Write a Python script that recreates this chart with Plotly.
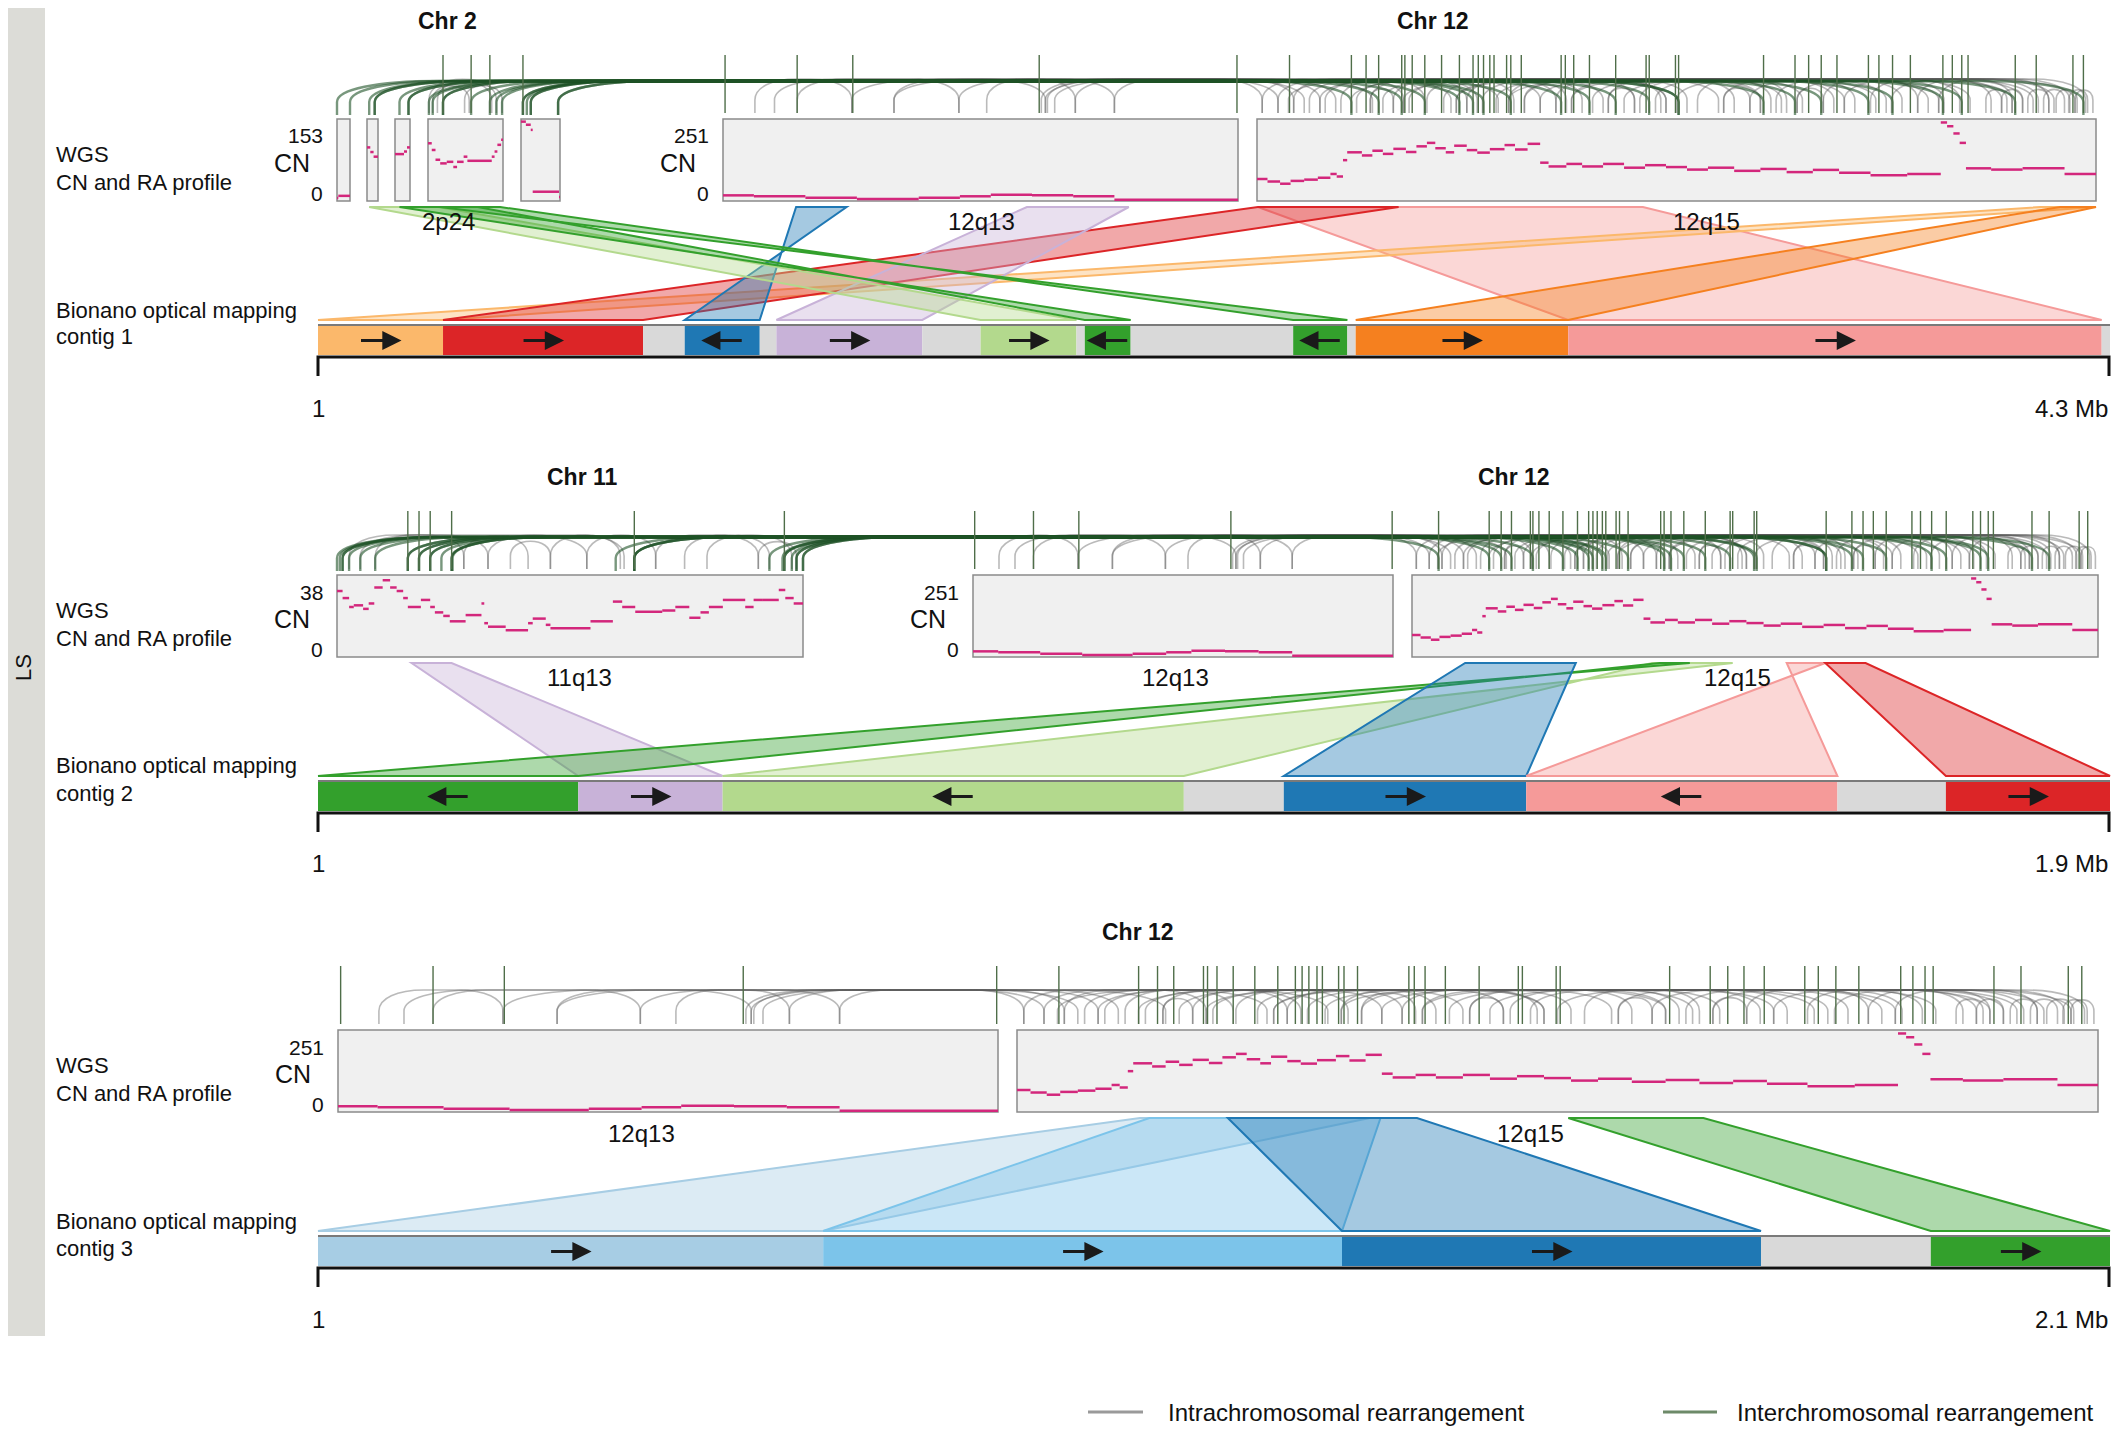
import plotly.graph_objects as go

W, H = 2120, 1434
OFF = 8                      # page margin the browser puts round the figure
WF, HF = W - 2 * OFF, H - 2 * OFF
FONT = "Liberation Sans, Arial, sans-serif"

# ---------------- data ----------------
COLOURS = {
    "lorange": "#fbb86b", "red": "#dc2527", "blue": "#1f78b4", "lav": "#c8b2d8",
    "lgreen": "#b3d98d", "green": "#33a02c", "orange": "#f5801f", "pink": "#f59a99",
    "pblue": "#a7cde4", "sky": "#7cc4ea", "gap": "#d9d9d9",
}

CONTIG_LENGTHS = [4.3, 1.9, 2.1]
CONTIG_END_LABELS = ["4.3 Mb", "1.9 Mb", "2.1 Mb"]

# contig segments: (start Mb, end Mb, colour, orientation)
CONTIG_1 = [
    (0.00, 0.30, "lorange", 1), (0.30, 0.78, "red", 1), (0.78, 0.88, "gap", 0),
    (0.88, 1.06, "blue", -1), (1.06, 1.10, "gap", 0), (1.10, 1.45, "lav", 1),
    (1.45, 1.59, "gap", 0), (1.59, 1.82, "lgreen", 1), (1.82, 1.84, "gap", 0),
    (1.84, 1.95, "green", -1), (1.95, 2.34, "gap", 0), (2.34, 2.47, "green", -1),
    (2.47, 2.49, "gap", 0), (2.49, 3.00, "orange", 1), (3.00, 4.28, "pink", 1),
    (4.28, 4.30, "gap", 0),
]
CONTIG_2 = [
    (0.000, 0.276, "green", -1), (0.276, 0.429, "lav", 1), (0.429, 0.918, "lgreen", -1),
    (0.918, 1.024, "gap", 0), (1.024, 1.281, "blue", 1), (1.281, 1.611, "pink", -1),
    (1.611, 1.726, "gap", 0), (1.726, 1.900, "red", 1),
]
CONTIG_3 = [
    (0.000, 0.592, "pblue", 1), (0.592, 1.200, "sky", 1), (1.200, 1.691, "blue", 1),
    (1.691, 1.890, "gap", 0), (1.890, 2.100, "green", 1),
]

# genomic windows shown in the CN tracks (Mb)
WINDOWS = {
    "chr2": [(14.4, 14.5), (14.8, 14.9), (15.1, 15.2), (15.4, 16.2), (16.5, 16.9)],
    "chr11": [(66.0, 71.0)],
    "chr12": [(56.0, 61.0), (62.0, 70.0)],
}
CN_MAX = {"chr2": 153, "chr11": 38, "chr12": 251}

# copy number segments: (start Mb, end Mb, CN)
CN_CHR2 = [
    (14.40, 14.41, 6), (14.41, 14.50, 10),
    (14.80, 14.83, 104), (14.83, 14.86, 95), (14.86, 14.90, 86),
    (15.10, 15.16, 91), (15.16, 15.18, 96), (15.18, 15.20, 104),
    (15.40, 15.44, 112), (15.44, 15.48, 99), (15.48, 15.53, 80), (15.53, 15.60, 73),
    (15.60, 15.67, 76), (15.67, 15.71, 66), (15.71, 15.78, 76), (15.78, 15.82, 86),
    (15.82, 16.08, 78), (16.08, 16.11, 86), (16.11, 16.14, 96), (16.14, 16.18, 109),
    (16.18, 16.20, 119),
    (16.50, 16.55, 154), (16.55, 16.60, 148), (16.60, 16.62, 138), (16.62, 16.89, 18),
    (16.89, 16.90, 8),
]
CN_CHR11 = [
    (66.00, 66.06, 31.8), (66.06, 66.13, 28.4), (66.13, 66.18, 24.1), (66.18, 66.28, 24.9),
    (66.28, 66.34, 23.2), (66.34, 66.40, 25.8), (66.40, 66.49, 33.5), (66.49, 66.57, 37.0),
    (66.57, 66.64, 33.5), (66.64, 66.71, 31.8), (66.71, 66.76, 28.4), (66.76, 66.90, 24.1),
    (66.90, 67.00, 27.5), (67.00, 67.05, 24.1), (67.05, 67.14, 21.5), (67.14, 67.21, 19.8),
    (67.21, 67.38, 17.2), (67.38, 67.55, 20.2), (67.55, 67.58, 25.8), (67.58, 67.62, 16.3),
    (67.62, 67.81, 14.6), (67.81, 68.05, 12.9), (68.05, 68.10, 16.3), (68.10, 68.24, 18.5),
    (68.24, 68.29, 15.5), (68.29, 68.72, 13.8), (68.72, 68.96, 17.2), (68.96, 69.06, 26.7),
    (69.06, 69.20, 24.1), (69.20, 69.49, 21.8), (69.49, 69.63, 22.4), (69.63, 69.78, 24.1),
    (69.78, 69.90, 18.9), (69.90, 69.99, 21.5), (69.99, 70.14, 24.1), (70.14, 70.38, 27.5),
    (70.38, 70.47, 24.1), (70.47, 70.57, 27.5), (70.57, 70.74, 27.5), (70.74, 70.81, 32.3),
    (70.81, 70.90, 28.4), (70.90, 71.00, 25.8),
]
CN_CHR12 = [
    (56.0, 56.3, 18), (56.3, 56.8, 15), (56.8, 57.3, 10), (57.3, 57.9, 6), (57.9, 58.3, 10),
    (58.3, 58.6, 15), (58.6, 59.0, 20), (59.0, 59.4, 18), (59.4, 59.8, 15), (59.8, 61.0, 4),
    (62.00, 62.10, 70), (62.10, 62.22, 62), (62.22, 62.32, 55), (62.32, 62.45, 64),
    (62.45, 62.58, 68), (62.58, 62.70, 74), (62.70, 62.76, 86), (62.76, 62.82, 78),
    (62.82, 62.86, 130), (62.86, 63.00, 155), (63.00, 63.10, 145), (63.10, 63.20, 160),
    (63.20, 63.30, 150), (63.30, 63.42, 166), (63.42, 63.52, 156), (63.52, 63.62, 174),
    (63.62, 63.70, 185), (63.70, 63.80, 168), (63.80, 63.88, 155), (63.88, 64.00, 176),
    (64.00, 64.10, 162), (64.10, 64.22, 154), (64.22, 64.36, 165), (64.36, 64.46, 178),
    (64.46, 64.58, 164), (64.58, 64.70, 182), (64.70, 64.78, 122), (64.78, 64.95, 110),
    (64.95, 65.10, 118), (65.10, 65.30, 110), (65.30, 65.50, 118), (65.50, 65.70, 106),
    (65.70, 65.90, 114), (65.90, 66.10, 108), (66.10, 66.30, 100), (66.30, 66.55, 106),
    (66.55, 66.80, 96), (66.80, 67.05, 102), (67.05, 67.30, 92), (67.30, 67.55, 99),
    (67.55, 67.85, 90), (67.85, 68.20, 82), (68.20, 68.52, 86), (68.52, 68.58, 250),
    (68.58, 68.64, 238), (68.64, 68.70, 215), (68.70, 68.76, 185), (68.76, 69.00, 104),
    (69.00, 69.30, 100), (69.30, 69.70, 104), (69.70, 70.00, 86),
]

# interchromosomal breakpoints (tall ticks)
TALL_CHR2 = [15.56, 15.86, 16.06, 16.52]
TALL_CHR11 = [66.76, 66.88, 67.00, 67.23, 69.19, 70.80]
TALL_CHR12 = [
    56.02, 56.72, 57.26, 59.07, 60.99,
    62.31, 62.90, 63.04, 63.16, 63.38, 63.41, 63.48, 63.60, 63.76, 63.93, 64.06, 64.11,
    64.16, 64.22, 64.26, 64.38, 64.42, 64.52, 64.90, 64.94, 65.02, 65.17, 65.42, 65.71,
    65.74, 65.99, 66.02, 66.83, 67.13, 67.26, 67.38, 67.53, 67.83, 67.93, 68.06, 68.23,
    68.54, 68.63, 68.72, 68.78, 69.23, 69.43, 69.78, 69.88,
]

# intrachromosomal rearrangements (arcs)
ARCS_CHR2 = [(15.45, 15.84), (15.50, 16.08), (15.41, 16.13), (15.79, 16.19)]
ARCS_CHR11 = [
    (66.13, 67.62), (66.25, 68.68), (66.41, 67.36), (67.36, 68.05), (67.62, 69.08),
    (67.86, 68.29), (68.29, 69.04), (68.68, 69.42), (69.42, 70.52), (69.73, 70.64),
    (69.97, 70.88), (70.52, 70.93),
]
ARCS_CHR12 = [
    (56.31, 57.25), (56.72, 58.29), (57.25, 62.45), (57.66, 63.10), (58.29, 62.20),
    (58.56, 59.42), (59.09, 62.60), (59.13, 63.85), (59.15, 62.75), (59.22, 64.30),
    (59.42, 62.35), (59.80, 62.05), (56.50, 59.13), (57.66, 59.80),
    (62.05, 63.40), (62.20, 64.10), (62.35, 63.60), (62.50, 64.70), (62.65, 65.30),
    (62.80, 64.00), (62.95, 65.90), (63.08, 64.45), (63.20, 66.40), (63.30, 64.85),
    (63.45, 67.00), (63.62, 65.10), (63.78, 66.10), (63.90, 67.60), (64.00, 65.60),
    (64.15, 66.80), (64.28, 68.00), (64.40, 65.85), (64.55, 67.20), (64.70, 68.40),
    (64.85, 66.55), (65.00, 67.50), (65.20, 68.80), (65.35, 66.90), (65.50, 69.30),
    (65.65, 67.70), (65.80, 68.15), (66.00, 69.60), (66.20, 67.05), (66.45, 68.55),
    (66.70, 69.10), (66.95, 68.70), (67.15, 69.45), (67.40, 68.30), (67.60, 69.75),
    (67.85, 69.00), (68.05, 69.90), (68.30, 69.20), (68.50, 69.55), (62.30, 66.80),
    (62.90, 67.90), (63.40, 68.50), (63.90, 69.20), (64.40, 69.80), (65.00, 69.40),
    (62.60, 65.90), (63.08, 63.30), (64.55, 64.95), (65.35, 65.60), (66.45, 66.70),
    (67.15, 67.40), (68.95, 69.15), (69.10, 69.30), (69.35, 69.55), (69.50, 69.70),
    (69.62, 69.82), (69.74, 69.92), (69.80, 69.97),
]
LINKS_2_12 = [
    (14.40, 63.38), (14.50, 64.16), (14.82, 64.90), (14.87, 65.42), (15.13, 63.60),
    (15.19, 66.02), (15.56, 63.93), (15.56, 67.13), (15.86, 64.42), (16.06, 68.06),
    (16.52, 65.17), (16.52, 69.23), (16.56, 66.83), (16.60, 67.83), (16.88, 68.72),
    (15.41, 64.06), (15.45, 65.74), (16.13, 66.02), (16.19, 67.38), (16.60, 68.54),
    (16.88, 69.88), (14.87, 63.16), (15.19, 62.90),
]
LINKS_11_12 = [
    (66.00, 63.04), (66.03, 63.41), (66.06, 64.06), (66.13, 64.52), (66.76, 63.76),
    (66.88, 64.22), (67.00, 65.02), (67.12, 65.71), (67.23, 66.02), (67.24, 63.16),
    (68.99, 64.94), (69.19, 65.99), (69.19, 67.26), (70.78, 66.83), (70.80, 67.53),
    (70.80, 68.23), (70.93, 68.63), (71.00, 69.43), (70.88, 64.26), (66.41, 62.90),
    (66.06, 65.17), (66.25, 63.93), (66.88, 66.83), (67.00, 64.11), (67.23, 67.13),
    (69.19, 68.06), (70.64, 69.23), (70.93, 62.31), (71.00, 65.42), (66.76, 68.72),
]

# alignments: (chrom, start Mb, end Mb, contig start, contig end, colour, inverted)
POLYS_1 = [
    ("chr12", 62.01, 65.68, 3.00, 4.28, "pink", False),
    ("chr12", 69.47, 70.00, 0.00, 0.30, "lorange", False),
    ("chr12", 62.01, 63.35, 0.30, 0.78, "red", False),
    ("chr12", 56.71, 57.20, 0.88, 1.06, "blue", True),
    ("chr12", 58.95, 59.94, 1.10, 1.45, "lav", False),
    ("chr2", 14.82, 15.51, 1.59, 1.82, "lgreen", False),
    ("chr2", 15.13, 15.93, 1.84, 1.95, "green", True),
    ("chr2", 15.53, 16.17, 2.34, 2.47, "green", True),
    ("chr12", 69.66, 70.00, 2.49, 3.00, "orange", False),
]
POLYS_2 = [
    ("chr11", 66.80, 67.23, 0.276, 0.429, "lav", False),
    ("chr12", 64.80, 65.74, 0.429, 0.918, "lgreen", True),
    ("chr12", 64.89, 65.24, 0.000, 0.276, "green", True),
    ("chr12", 62.62, 63.91, 1.024, 1.281, "blue", False),
    ("chr12", 66.37, 66.82, 1.281, 1.611, "pink", True),
    ("chr12", 66.82, 67.29, 1.726, 1.900, "red", False),
]
POLYS_3 = [
    ("chr12", 62.91, 64.61, 0.000, 0.592, "pblue", False),
    ("chr12", 62.98, 64.69, 0.592, 1.200, "sky", False),
    ("chr12", 63.56, 64.96, 1.200, 1.691, "blue", False),
    ("chr12", 66.08, 67.08, 1.890, 2.100, "green", False),
]

# ---------------- layout (pixels of the 2120x1434 page) ----------------
PANEL_DY = [0, 456, 911]
WINDOW_PX = [
    {"chr2": [(337, 350), (367, 378), (395, 410), (428, 503), (521, 560)],
     "chr12": [(723, 1238), (1257, 2096)]},
    {"chr11": [(337, 803)], "chr12": [(973, 1393), (1412, 2098)]},
    {"chr12": [(338, 998), (1017, 2098)]},
]
TITLES = [[("Chr 2", 447), ("Chr 12", 1433)], [("Chr 11", 582), ("Chr 12", 1514)], [("Chr 12", 1138)]]
BANDS = [[("2p24", 448), ("12q13", 981), ("12q15", 1706)],
         [("11q13", 579), ("12q13", 1175), ("12q15", 1737)],
         [("12q13", 641), ("12q15", 1530)]]
PANELS = [
    dict(contig=CONTIG_1, polys=POLYS_1, arcs=[("chr2", ARCS_CHR2), ("chr12", ARCS_CHR12)],
         tall=[("chr2", TALL_CHR2), ("chr12", TALL_CHR12)], links=("chr2", LINKS_2_12)),
    dict(contig=CONTIG_2, polys=POLYS_2, arcs=[("chr11", ARCS_CHR11), ("chr12", ARCS_CHR12)],
         tall=[("chr11", TALL_CHR11), ("chr12", TALL_CHR12)], links=("chr11", LINKS_11_12)),
    dict(contig=CONTIG_3, polys=POLYS_3, arcs=[("chr12", ARCS_CHR12)],
         tall=[("chr12", TALL_CHR12)], links=None),
]
CN_DATA = {"chr2": CN_CHR2, "chr11": CN_CHR11, "chr12": CN_CHR12}
CX0, CX1 = 318, 2110

GREY_ARC = "rgba(90,90,90,0.42)"
GREEN_LINK = "rgba(30,82,38,0.6)"
TALL_COL = "#4f6e49"
CN_COL = "#d3277c"


def hexa(c, a):
    c = c.lstrip("#")
    return f"rgba({int(c[0:2], 16)},{int(c[2:4], 16)},{int(c[4:6], 16)},{a})"


def px(x):
    return (x - OFF) / WF


def py(y):
    return 1 - (y - OFF) / HF


def gx(p, chrom, mb):
    for (lo, hi), (x0, x1) in zip(WINDOWS[chrom], WINDOW_PX[p][chrom]):
        if lo - 1e-6 <= mb <= hi + 1e-6:
            return x0 + (mb - lo) / (hi - lo) * (x1 - x0)
    raise ValueError((chrom, mb))


def cx(p, mb):
    return CX0 + mb / CONTIG_LENGTHS[p] * (CX1 - CX0)


def arc_path(xa, xb, dy):
    xa, xb = sorted((xa, xb))
    d = xb - xa
    foot, low = dy + 100, dy + 113
    h = min(21.0, 6 + 0.22 * d)
    top = foot - h
    r = min(d / 2, 30 + 0.12 * d, 100)
    return (f"M{xa:.1f},{low} L{xa:.1f},{foot} "
            f"C{xa:.1f},{foot - 0.6 * h:.1f} {xa + 0.4 * r:.1f},{top:.1f} {xa + r:.1f},{top:.1f} "
            f"L{xb - r:.1f},{top:.1f} "
            f"C{xb - 0.4 * r:.1f},{top:.1f} {xb:.1f},{foot - 0.6 * h:.1f} {xb:.1f},{foot} L{xb:.1f},{low}")


def txt(text, x, y, size=22, bold=False, xanchor="center", **kw):
    if bold:
        text = f"<b>{text}</b>"
    return dict(text=text, x=px(x), y=py(y), xref="paper", yref="paper", showarrow=False,
                xanchor=xanchor, yanchor="middle", font=dict(family=FONT, size=size, color="#111"), **kw)


fig = go.Figure()
layout = dict(
    width=WF, height=HF, margin=dict(l=0, r=0, t=0, b=0),
    paper_bgcolor="white", plot_bgcolor="rgba(0,0,0,0)", showlegend=False,
    xaxis=dict(domain=[0, 1], range=[OFF, OFF + WF], visible=False),
    yaxis=dict(domain=[0, 1], range=[OFF + HF, OFF], visible=False),
)
shapes, annotations = [], []
fig.add_trace(go.Scatter(x=[None], y=[None], xaxis="x", yaxis="y", hoverinfo="skip"))

# side strip and legend
shapes.append(dict(type="rect", xref="paper", yref="paper", x0=0, x1=px(45), y0=py(1336),
                   y1=py(4), fillcolor="#dcdcd7", line=dict(width=0), layer="below"))
annotations.append(txt("LS", 24, 668, size=22, textangle=-90))
shapes.append(dict(type="line", xref="x", yref="y", x0=1088, x1=1143, y0=1412, y1=1412,
                   line=dict(color="#9a9a9a", width=3)))
shapes.append(dict(type="line", xref="x", yref="y", x0=1663, x1=1717, y0=1412, y1=1412,
                   line=dict(color="#6d8a69", width=3)))
annotations.append(txt("Intrachromosomal rearrangement", 1166, 1412, size=24, xanchor="left"))
annotations.append(txt("Interchromosomal rearrangement", 1735, 1412, size=24, xanchor="left"))

k = 2
for p, panel in enumerate(PANELS):
    dy = PANEL_DY[p]
    for name, x in TITLES[p]:
        annotations.append(txt(name, x, dy + 21, size=23, bold=True))
    for name, x in BANDS[p]:
        annotations.append(txt(name, x, dy + 222, size=24))
    annotations.append(txt("WGS", 54, dy + 154, size=22, xanchor="left"))
    annotations.append(txt("CN and RA profile", 54, dy + 182, size=22, xanchor="left"))
    annotations.append(txt("Bionano optical mapping", 54, dy + 310, size=22, xanchor="left"))
    annotations.append(txt(f"contig {p + 1}", 54, dy + 337, size=22, xanchor="left"))

    # CN windows
    for chrom, spans in WINDOW_PX[p].items():
        cmax = CN_MAX[chrom]
        for i, ((lo, hi), (x0, x1)) in enumerate(zip(WINDOWS[chrom], spans)):
            xa, ya = f"x{k}", f"y{k}"
            layout[f"xaxis{k}"] = dict(domain=[px(x0), px(x1)], range=[lo, hi], visible=False, anchor=ya)
            layout[f"yaxis{k}"] = dict(domain=[py(dy + 201), py(dy + 119)],
                                       range=[0, 1.04 * cmax], visible=False, anchor=xa)
            shapes.append(dict(type="rect", xref=f"{xa} domain", yref=f"{ya} domain", x0=0, x1=1, y0=0, y1=1,
                               fillcolor="#f0f0f0", line=dict(color="#8a8a8a", width=1.5), layer="below"))
            xs, ys = [], []
            for s, e, v in CN_DATA[chrom]:
                if lo - 1e-6 <= s and e <= hi + 1e-6:
                    xs += [s, e, None]
                    ys += [v, v, None]
            fig.add_trace(go.Scatter(x=xs, y=ys, mode="lines", xaxis=xa, yaxis=ya, hoverinfo="skip",
                                     line=dict(color=CN_COL, width=2.5)))
            if i == 0:
                annotations.append(txt(str(cmax), x0 - 12, dy + 136, size=21, xanchor="right"))
                annotations.append(txt("0", x0 - 12, dy + 193, size=21, xanchor="right"))
                annotations.append(txt("CN", x0 - 45, dy + 163, size=25))
            k += 1

    # rearrangement arcs and breakpoints
    for chrom, arcs in panel["arcs"]:
        for a, b in arcs:
            shapes.append(dict(type="path", xref="x", yref="y", path=arc_path(gx(p, chrom, a), gx(p, chrom, b), dy),
                               line=dict(color=GREY_ARC, width=1.6)))
    if panel["links"]:
        other, links = panel["links"]
        for a, b in links:
            shapes.append(dict(type="path", xref="x", yref="y",
                               path=arc_path(gx(p, other, a), gx(p, "chr12", b), dy + 2),
                               line=dict(color=GREEN_LINK, width=2.4)))
    for chrom, ticks in panel["tall"]:
        for t in ticks:
            x = gx(p, chrom, t)
            shapes.append(dict(type="line", xref="x", yref="y", x0=x, x1=x, y0=dy + 55, y1=dy + 113,
                               line=dict(color=TALL_COL, width=1.4)))

    # alignment polygons
    for chrom, s, e, cs, ce, col, inv in panel["polys"]:
        t0, t1 = gx(p, chrom, s), gx(p, chrom, e)
        b0, b1 = cx(p, cs), cx(p, ce)
        if inv:
            b0, b1 = b1, b0
        yt, yb = dy + 207, dy + 320
        path = f"M{t0:.1f},{yt} L{t1:.1f},{yt} L{b1:.1f},{yb} L{b0:.1f},{yb} Z"
        shapes.append(dict(type="path", xref="x", yref="y", path=path, fillcolor=hexa(COLOURS[col], 0.4),
                           line=dict(color=COLOURS[col], width=2)))

    # contig bar
    L = CONTIG_LENGTHS[p]
    xa, ya = f"x{k}", f"y{k}"
    layout[f"xaxis{k}"] = dict(domain=[px(CX0), px(CX1)], range=[0, L], visible=False, anchor=ya)
    layout[f"yaxis{k}"] = dict(domain=[py(dy + 355), py(dy + 326)], range=[-0.5, 0.5],
                               visible=False, anchor=xa)
    segs = panel["contig"]
    fig.add_trace(go.Bar(orientation="h", y=[0] * len(segs), x=[e - s for s, e, _, _ in segs],
                         base=[s for s, _, _, _ in segs], width=1, xaxis=xa, yaxis=ya, hoverinfo="skip",
                         marker=dict(color=[COLOURS[c] for _, _, c, _ in segs], line=dict(width=0))))
    half = 21 / (CX1 - CX0) * L
    for s, e, c, d in segs:
        if d == 0:
            continue
        m = (s + e) / 2
        annotations.append(dict(x=m + d * half, y=0, ax=m - d * half, ay=0, xref=xa, yref=ya, axref=xa, ayref=ya,
                                text="", showarrow=True, arrowhead=2, arrowsize=1.2, arrowwidth=3.2,
                                arrowcolor="#1a1a1a", standoff=0, startstandoff=0))
    shapes.append(dict(type="line", xref="x", yref="y", x0=CX0, x1=CX1, y0=dy + 325, y1=dy + 325,
                       line=dict(color="#7a7a7a", width=2)))
    shapes.append(dict(type="path", xref="x", yref="y",
                       path=f"M{CX0},{dy + 376} L{CX0},{dy + 357} L{CX1 - 1},{dy + 357} L{CX1 - 1},{dy + 376}",
                       line=dict(color="#111", width=3)))
    annotations.append(txt("1", CX0, dy + 408, size=24))
    annotations.append(txt(CONTIG_END_LABELS[p], CX1, dy + 408, size=24, xanchor="right"))
    k += 1

layout["shapes"] = shapes
layout["annotations"] = annotations
fig.update_layout(**layout)
fig.write_html("out.html")
